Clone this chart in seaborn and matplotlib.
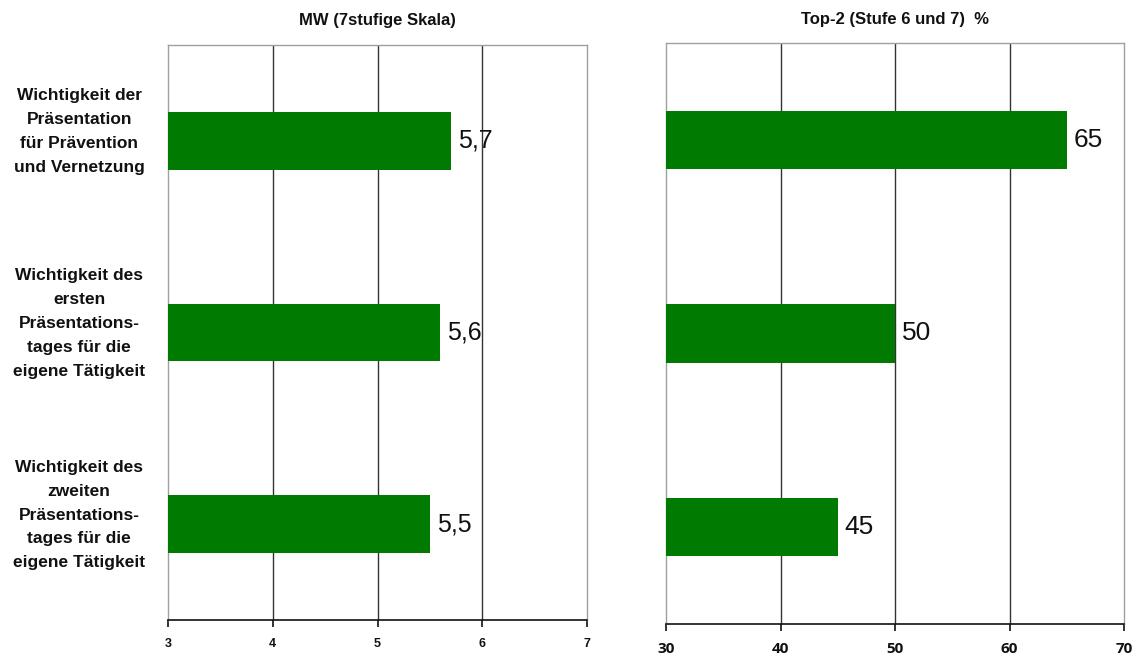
import matplotlib
matplotlib.use("Agg")
import matplotlib.pyplot as plt
import matplotlib.transforms as mtransforms
import seaborn as sns
import pandas as pd

categories = [
    "Wichtigkeit der\nPräsentation\nfür Prävention\nund Vernetzung",
    "Wichtigkeit des\nersten\nPräsentations-\ntages für die\neigene Tätigkeit",
    "Wichtigkeit des\nzweiten\nPräsentations-\ntages für die\neigene Tätigkeit",
]
mean_values = [5.7, 5.6, 5.5]
top2_values = [65, 50, 45]
mean_ticks = [3, 4, 5, 6, 7]
top2_ticks = [30, 40, 50, 60, 70]
mean_title = "MW (7stufige Skala)"
top2_title = "Top-2 (Stufe 6 und 7)  %"

sns.set_theme(style="white")
plt.rcParams["font.family"] = ["Liberation Sans", "DejaVu Sans"]

GREEN = "#007a00"
fig = plt.figure(figsize=(11.4, 6.58), dpi=100)
ax1 = fig.add_axes([0.1474, 0.0578, 0.3675, 0.8739])
ax2 = fig.add_axes([0.5842, 0.0517, 0.4018, 0.8830])

df_mean = pd.DataFrame({"cat": categories, "val": mean_values})
df_top2 = pd.DataFrame({"cat": categories, "val": top2_values})


def draw(ax, df, ticks, title, labels, tick_fs, tick_family, label_fs):
    sns.barplot(data=df, x="val", y="cat", orient="h", color=GREEN,
                width=0.30, saturation=1, ax=ax, zorder=3)
    for p in ax.patches:
        # bars start at the left axis limit
        x0 = ticks[0]
        w = p.get_x() + p.get_width() - x0
        p.set_x(x0)
        p.set_width(w)
        p.set_edgecolor("none")
    ax.set_xlim(ticks[0], ticks[-1])
    ax.set_ylim(2.5, -0.5)
    ax.set_xticks(ticks)
    ax.set_xticklabels([str(t) for t in ticks], fontsize=tick_fs,
                       fontweight="bold", family=tick_family)
    for t in ticks[1:-1]:
        ax.axvline(t, color="#333333", lw=1.0, zorder=1)
    ax.bar_label(ax.containers[0], labels=labels, padding=5,
                 fontsize=label_fs, color="#111111")
    ax.set_title(title, fontsize=12, fontweight="bold", pad=14, color="#111111")
    ax.set_xlabel("")
    ax.set_ylabel("")
    for side in ("top", "right", "left"):
        ax.spines[side].set_color("#a0a0a0")
        ax.spines[side].set_linewidth(1.0)
    ax.spines["bottom"].set_color("#111111")
    ax.spines["bottom"].set_linewidth(1.2)
    ax.tick_params(axis="x", bottom=True, length=5, width=1.2,
                   color="#111111", pad=8, labelcolor="#111111")


draw(ax1, df_mean, mean_ticks, mean_title,
     [f"{v:.1f}".replace(".", ",") for v in mean_values], 9,
     ["Liberation Sans"], 18)
draw(ax2, df_top2, top2_ticks, top2_title,
     [str(v) for v in top2_values], 11, ["Open Sans", "DejaVu Sans"], 19)

ax1.set_yticks(range(len(categories)))
ax1.set_yticklabels(categories, ha="center", multialignment="center",
                    fontsize=12.5, fontweight="bold",
                    linespacing=1.74, color="#111111")
ax1.tick_params(axis="y", left=False, pad=58)
# category labels sit slightly above the bar centres
shift = mtransforms.ScaledTranslation(0, 15 / 100, fig.dpi_scale_trans)
for lab in ax1.get_yticklabels():
    lab.set_transform(lab.get_transform() + shift)
ax2.set_yticks([])

fig.savefig("out.png", dpi=100, facecolor="white")
